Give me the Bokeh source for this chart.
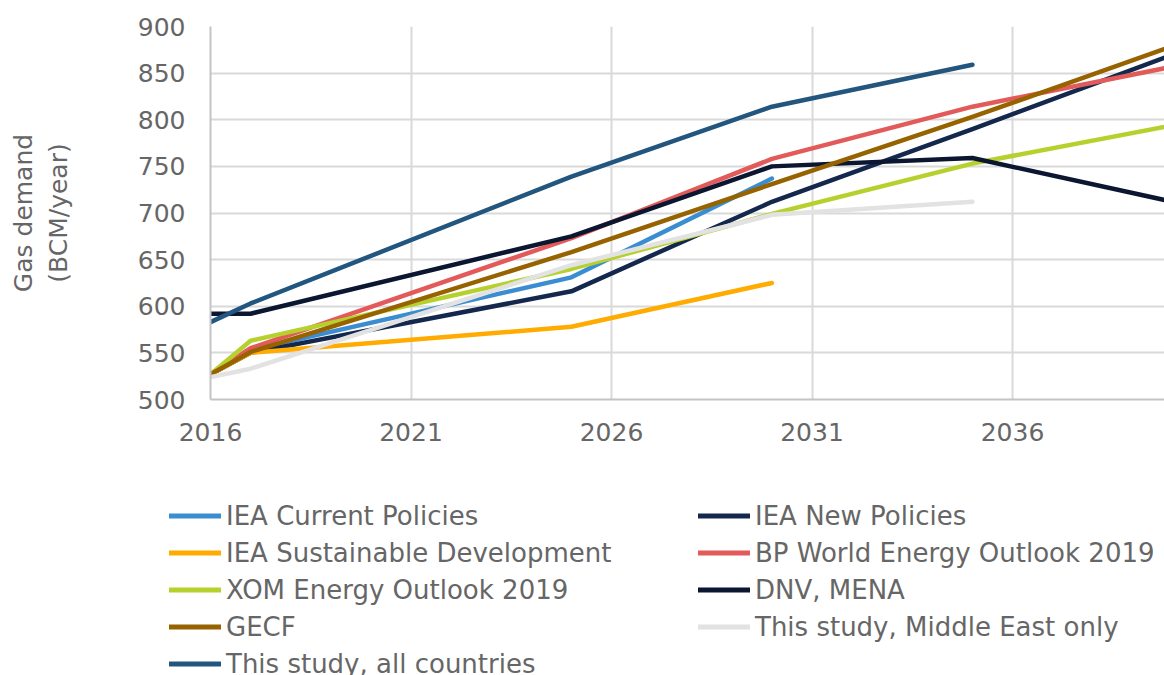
from bokeh.plotting import figure
from bokeh.models import ColumnDataSource, Legend, LegendItem, FixedTicker, Range1d
from bokeh.embed import file_html
from bokeh.resources import INLINE

# ---- data ----
x_ticks = [2016, 2021, 2026, 2031, 2036]
y_ticks = [500, 550, 600, 650, 700, 750, 800, 850, 900]

years_2030 = [2016, 2017, 2025, 2030]
years_2035 = [2016, 2017, 2025, 2030, 2035]
years_2040 = [2016, 2017, 2025, 2030, 2035, 2040]

iea_current = [527, 553, 631, 737]
iea_new = [527, 550, 616, 712, 790, 870]
iea_sd = [527, 550, 578, 625]
bp_weo = [527, 555, 673, 758, 814, 857]
xom = [527, 563, 640, 699, 753, 794]
dnv_mena = [592, 592, 675, 750, 759, 712]
gecf = [527, 551, 658, 731, 803, 879]
study_me = [524, 533, 644, 698, 712]
study_all = [583, 603, 739, 814, 859]

series = [
    ("IEA Current Policies", years_2030, iea_current, "#3A8DD0"),
    ("IEA New Policies", years_2040, iea_new, "#14284D"),
    ("IEA Sustainable Development", years_2030, iea_sd, "#FFAB00"),
    ("BP World Energy Outlook 2019", years_2040, bp_weo, "#E35A5A"),
    ("XOM Energy Outlook 2019", years_2040, xom, "#B6D12E"),
    ("DNV, MENA", years_2040, dnv_mena, "#0B1630"),
    ("GECF", years_2040, gecf, "#976300"),
    ("This study, Middle East only", years_2035, study_me, "#E2E2E2"),
    ("This study, all countries", years_2035, study_all, "#22567F"),
]

FONT = "DejaVu Sans"
GREY = "#666666"
LINE_W = 4.5

# ---------------- main chart ----------------
p = figure(
    width=1164, height=460,
    x_range=Range1d(2016, 2039.79), y_range=Range1d(500, 900),
    output_backend="svg", toolbar_location=None,
    min_border_left=210, min_border_right=0,
    min_border_top=26, min_border_bottom=61,
)
p.background_fill_color = "white"
p.border_fill_color = "white"
p.outline_line_color = None

p.xgrid.ticker = FixedTicker(ticks=x_ticks)
p.ygrid.ticker = FixedTicker(ticks=y_ticks)
for g in (p.xgrid, p.ygrid):
    g.grid_line_color = "#D9D9D9"
    g.grid_line_width = 2

p.xaxis.ticker = FixedTicker(ticks=x_ticks)
p.yaxis.ticker = FixedTicker(ticks=y_ticks)
for ax in (p.xaxis, p.yaxis):
    ax.axis_line_color = "#C4C4C4"
    ax.axis_line_width = 2
    ax.major_tick_line_color = None
    ax.minor_tick_line_color = None
    ax.major_tick_out = 0
    ax.major_tick_in = 0
    ax.major_label_text_font = FONT
    ax.major_label_text_font_size = "25px"
    ax.major_label_text_color = GREY
p.xaxis.major_label_standoff = 23
p.yaxis.major_label_standoff = 25

p.yaxis.axis_label = "Gas demand\n(BCM/year)"
p.yaxis.axis_label_text_font = FONT
p.yaxis.axis_label_text_font_size = "25px"
p.yaxis.axis_label_text_font_style = "normal"
p.yaxis.axis_label_text_color = GREY
p.yaxis.axis_label_standoff = 62

sources = []
for name, xs, ys, color in series:
    src = ColumnDataSource(dict(x=xs, y=ys))
    sources.append(src)
    p.line("x", "y", source=src, line_color=color, line_width=LINE_W,
           line_cap="round", line_join="round")

# ---------------- legend strip below (separate root) ----------------
lg = figure(
    width=1164, height=215,
    x_range=Range1d(0, 1), y_range=Range1d(0, 1),
    x_axis_type=None, y_axis_type=None,
    output_backend="svg", toolbar_location=None,
    min_border=0,
)
lg.outline_line_color = None
lg.background_fill_color = "white"
lg.border_fill_color = "white"

items = []
for (name, xs, ys, color), src in zip(series, sources):
    # same data, outside this strip's ranges: only the legend sample shows
    r = lg.line("x", "y", source=src, line_color=color, line_width=5,
                line_cap="round", line_join="round")
    items.append(LegendItem(label=name, renderers=[r]))

legend = Legend(
    items=items,
    orientation="horizontal",
    ncols=2,
    location=(169, -5),
    margin=0, padding=0,
    glyph_width=52, glyph_height=33,
    label_width=468, label_height=33,
    label_standoff=5, spacing=4,
    label_text_font=FONT, label_text_font_size="26px",
    label_text_color=GREY,
    border_line_color=None,
    background_fill_alpha=0,
)
lg.add_layout(legend)

open("out.html", "w").write(file_html([p, lg], INLINE))
